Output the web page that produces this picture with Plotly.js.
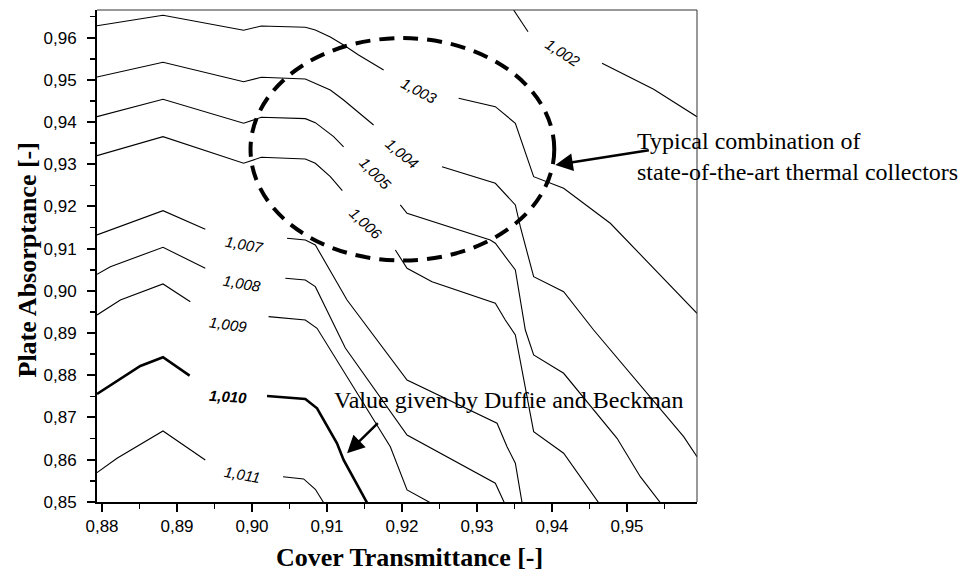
<!DOCTYPE html>
<html>
<head>
<meta charset="utf-8">
<script src="https://cdn.plot.ly/plotly-3.0.1.min.js"></script>
<style>
  html, body { margin: 0; padding: 0; background: #ffffff; }
  #chart { width: 960px; height: 571px; }
</style>
</head>
<body>
<div id="chart"></div>
<script>
// Iso-lines of the correction factor over cover transmittance (x) and plate absorptance (y).
// Each line is stored as x/y polylines; null splits a line where its label sits.

const levelNames = ['1,002', '1,003', '1,004', '1,005', '1,006', '1,007', '1,008', '1,009', '1,010', '1,011'];

const x1002 = [0.93488, 0.93680, null, 0.94667, 0.94955, 0.95355, 0.95933];
const y1002 = [0.96656, 0.96142, null, 0.95393, 0.95140, 0.94777, 0.94128];

const x1003 = [0.87933, 0.88813, 0.89888, 0.90124, 0.90711, 0.90844, 0.91044, 0.91221, 0.91421, 0.91755, null,
               0.92755, 0.93244, 0.93511, 0.93755, 0.94155, 0.94777, 0.95933];
const y1003 = [0.96284, 0.96531, 0.96175, 0.96277, 0.96246, 0.96182, 0.96017, 0.95827, 0.95590, 0.95235, null,
               0.94564, 0.94365, 0.93972, 0.92706, 0.92431, 0.91602, 0.89469];

const x1004 = [0.87933, 0.88813, 0.89888, 0.90124, 0.90711, 0.90844, 0.91044, 0.91221, 0.91621, null,
               0.92533, 0.93244, 0.93511, 0.93577, 0.93755, 0.94155, 0.94555, 0.95755, 0.95933];
const y1004 = [0.95069, 0.95417, 0.94957, 0.95062, 0.95021, 0.94919, 0.94761, 0.94524, 0.93931, null,
               0.92943, 0.92550, 0.92036, 0.91521, 0.90336, 0.89981, 0.89073, 0.86545, 0.86071];

const x1005 = [0.87933, 0.88813, 0.89888, 0.90124, 0.90711, 0.90844, 0.91088, 0.91221, null,
               0.91977, 0.92067, 0.93177, 0.93244, 0.93511, 0.93644, 0.93755, 0.94155, 0.94867, 0.95177, 0.95444];
const y1005 = [0.94128, 0.94540, 0.93972, 0.94114, 0.94081, 0.93986, 0.93654, 0.93410, null,
               0.92036, 0.91839, 0.91206, 0.91128, 0.90495, 0.89073, 0.88481, 0.88047, 0.86507, 0.85597, 0.84981];

const x1006 = [0.87933, 0.88813, 0.89888, 0.90124, 0.90711, 0.90844, 0.91044, 0.91204, null,
               0.91911, 0.92067, 0.92400, 0.93244, 0.93377, 0.93511, 0.93755, 0.94155, 0.94621];
const y1006 = [0.93204, 0.93654, 0.93024, 0.93166, 0.93126, 0.93024, 0.92706, 0.92374, null,
               0.90969, 0.90536, 0.90218, 0.89706, 0.89310, 0.88955, 0.86664, 0.86152, 0.84981];

const x1007 = [0.87933, 0.88813, 0.89377, null,
               0.90467, 0.90711, 0.90844, 0.91267, 0.92067, 0.93267, 0.93400, 0.93511, 0.93600];
const y1007 = [0.91325, 0.91900, 0.91460, null,
               0.91246, 0.91206, 0.91088, 0.89784, 0.87889, 0.86863, 0.86308, 0.85915, 0.84981];

const x1008 = [0.87933, 0.88111, 0.88813, 0.89377, null,
               0.90444, 0.90711, 0.90844, 0.91244, 0.92067, 0.93244, 0.93364];
const y1008 = [0.90393, 0.90573, 0.91033, 0.90536, null,
               0.90299, 0.90258, 0.90100, 0.88647, 0.86585, 0.85441, 0.84981];

const x1009 = [0.87933, 0.88244, 0.88813, 0.89177, null,
               0.90221, 0.90711, 0.90867, 0.91755, 0.91844, 0.92067, 0.92377];
const y1009 = [0.89429, 0.89784, 0.90164, 0.89744, null,
               0.89389, 0.89310, 0.89114, 0.86545, 0.86308, 0.85282, 0.84981];

const x1010 = [0.87933, 0.88511, 0.88813, 0.89168, null,
               0.90200, 0.90711, 0.90867, 0.91133, 0.91221, 0.91533];
const y1010 = [0.87557, 0.88220, 0.88427, 0.87991, null,
               0.87510, 0.87439, 0.87218, 0.86389, 0.85993, 0.84981];

const x1011 = [0.87933, 0.88200, 0.88813, 0.89377, null,
               0.90413, 0.90688, 0.90844, 0.90955];
const y1011 = [0.85692, 0.86033, 0.86680, 0.85993, null,
               0.85597, 0.85543, 0.85299, 0.84981];

const lineXs = [x1002, x1003, x1004, x1005, x1006, x1007, x1008, x1009, x1010, x1011];
const lineYs = [y1002, y1003, y1004, y1005, y1006, y1007, y1008, y1009, y1010, y1011];

// where each level label is written along its line, and its tilt
const labelX = [0.94141, 0.92221, 0.92000, 0.91644, 0.91520, 0.89897, 0.89871, 0.89680, 0.89680, 0.89867];
const labelY = [0.95654, 0.94744, 0.93244, 0.92770, 0.91602, 0.91088, 0.90182, 0.89192, 0.87493, 0.85637];
const labelAngle = [33, 28, 40, 46, 43, 10, 10, 8, 4, 10];

// the 1,010 line is the value given by Duffie and Beckman and is drawn heavier
const highlightLevel = '1,010';

const traces = levelNames.map((name, i) => ({
  type: 'scatter',
  mode: 'lines',
  name: name,
  x: lineXs[i],
  y: lineYs[i],
  connectgaps: false,
  hoverinfo: 'skip',
  line: { color: '#000000', width: name === highlightLevel ? 2.6 : 1.1 }
}));

const sansFont = 'Liberation Sans, Arial, sans-serif';
const serifFont = 'Liberation Serif, Times New Roman, serif';

const annotations = levelNames.map((name, i) => ({
  x: labelX[i], y: labelY[i], xref: 'x', yref: 'y',
  text: name === highlightLevel ? '<b><i>' + name + '</i></b>' : '<i>' + name + '</i>',
  showarrow: false, textangle: labelAngle[i],
  font: { family: sansFont, size: 15, color: '#000000' }
}));

// region of typical state-of-the-art collectors and its callout
annotations.push({
  x: 0.95111, y: 0.93196, xref: 'x', yref: 'y', xanchor: 'left', yanchor: 'middle', align: 'left',
  text: 'Typical combination of<br>state-of-the-art thermal collectors',
  showarrow: false, font: { family: serifFont, size: 24, color: '#000000' }
});
annotations.push({
  x: 0.94044, y: 0.92983, ax: 0.95311, ay: 0.93339, xref: 'x', yref: 'y', axref: 'x', ayref: 'y',
  text: '', showarrow: true, arrowhead: 2, arrowsize: 1.4, arrowwidth: 2.5, arrowcolor: '#000000'
});
annotations.push({
  x: 0.91067, y: 0.87422, xref: 'x', yref: 'y', xanchor: 'left', yanchor: 'middle',
  text: 'Value given by Duffie and Beckman',
  showarrow: false, font: { family: serifFont, size: 24, color: '#000000' }
});
annotations.push({
  x: 0.91267, y: 0.86152, ax: 0.91697, ay: 0.86900, xref: 'x', yref: 'y', axref: 'x', ayref: 'y',
  text: '', showarrow: true, arrowhead: 2, arrowsize: 1.4, arrowwidth: 2.5, arrowcolor: '#000000'
});

// axis titles
annotations.push({
  x: 0.52, y: -0.1138, xref: 'paper', yref: 'paper', xanchor: 'center', yanchor: 'middle',
  text: '<b>Cover Transmittance [-]</b>', showarrow: false,
  font: { family: serifFont, size: 26, color: '#000000' }
});
annotations.push({
  x: -0.1158, y: 0.4919, xref: 'paper', yref: 'paper', xanchor: 'center', yanchor: 'middle',
  text: '<b>Plate Absorptance [-]</b>', showarrow: false, textangle: -90,
  font: { family: serifFont, size: 26, color: '#000000' }
});

const axisCommon = {
  showgrid: false, zeroline: false,
  showline: true, linecolor: '#000000', linewidth: 2,
  ticks: 'outside', ticklen: 8, tickwidth: 2, tickcolor: '#000000',
  dtick: 0.01, tickformat: '.2f',
  tickfont: { family: sansFont, size: 17, color: '#000000' },
  minor: { dtick: 0.005, ticks: 'outside', ticklen: 5, tickwidth: 1.5, tickcolor: '#000000', showgrid: false }
};

const layout = {
  width: 960, height: 571,
  margin: { l: 97, r: 263, t: 10, b: 69 },
  paper_bgcolor: '#ffffff', plot_bgcolor: '#ffffff',
  showlegend: false,
  separators: ', ',
  xaxis: Object.assign({}, axisCommon, { range: [0.87933, 0.95933], tick0: 0.88 }),
  yaxis: Object.assign({}, axisCommon, { range: [0.84997, 0.96656], tick0: 0.85, ticklabelstandoff: 7 }),
  annotations: annotations,
  shapes: [
    // thin frame on the top and right edges
    { type: 'line', xref: 'paper', yref: 'paper', x0: 0, x1: 1, y0: 1, y1: 1, line: { color: '#333333', width: 1 } },
    { type: 'line', xref: 'paper', yref: 'paper', x0: 1, x1: 1, y0: 0, y1: 1, line: { color: '#333333', width: 1 } },
    // dashed outline around the typical collector region
    { type: 'circle', xref: 'x', yref: 'y', x0: 0.8998, x1: 0.9403, y0: 0.9072, y1: 0.9599,
      line: { color: '#000000', width: 4, dash: '15px,9px' } }
  ]
};

Plotly.newPlot('chart', traces, layout, { displayModeBar: false, staticPlot: true });
</script>
</body>
</html>
